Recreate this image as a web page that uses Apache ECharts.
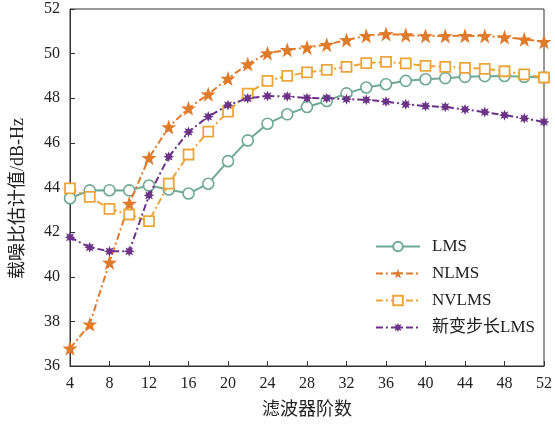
<!DOCTYPE html>
<html>
<head>
<meta charset="utf-8">
<script src="https://cdn.jsdelivr.net/npm/echarts@6/dist/echarts.min.js"></script>
<style>
  html, body { margin: 0; padding: 0; background: #fff; }
  #chart { width: 555px; height: 425px; }
</style>
</head>
<body>
<div id="chart"></div>
<script>
// Filter order (x) and estimated C/N0 for each algorithm
const filterOrders = [4, 6, 8, 10, 12, 14, 16, 18, 20, 22, 24, 26, 28, 30, 32, 34, 36, 38, 40, 42, 44, 46, 48, 50, 52];
const lmsValues = [43.52, 43.87, 43.88, 43.87, 44.09, 43.91, 43.73, 44.17, 45.18, 46.11, 46.86, 47.28, 47.61, 47.88, 48.22, 48.48, 48.63, 48.78, 48.85, 48.9, 48.96, 48.99, 49.0, 48.96, 48.93];
const nlmsValues = [36.79, 37.87, 40.64, 43.28, 45.33, 46.71, 47.55, 48.18, 48.88, 49.53, 50.02, 50.17, 50.28, 50.4, 50.61, 50.8, 50.88, 50.83, 50.79, 50.79, 50.8, 50.79, 50.74, 50.64, 50.53];
const nvlmsValues = [43.96, 43.58, 43.04, 42.79, 42.49, 44.17, 45.48, 46.5, 47.4, 48.21, 48.78, 49.0, 49.16, 49.27, 49.41, 49.57, 49.63, 49.56, 49.45, 49.41, 49.36, 49.32, 49.21, 49.07, 48.93];
const newVssValues = [41.77, 41.32, 41.14, 41.14, 43.65, 45.38, 46.49, 47.18, 47.69, 48.0, 48.1, 48.08, 48.01, 48.0, 47.96, 47.93, 47.85, 47.73, 47.65, 47.61, 47.5, 47.38, 47.24, 47.1, 46.94];
const seriesNames = ['LMS', 'NLMS', 'NVLMS', '新变步长LMS'];
const xTicks = [4, 8, 12, 16, 20, 24, 28, 32, 36, 40, 44, 48, 52];

const serifFont = '"Liberation Serif", "Noto Sans CJK SC", serif';
const cjkFont = '"Noto Sans CJK SC", "Liberation Serif", serif';

// Eight-armed burst used as the marker of the variable step-size series
const burstPath = 'path://M0,-10 L2,-4.8 L7.1,-7.1 L4.8,-2 L10,0 L4.8,2 L7.1,7.1 L2,4.8 L0,10 L-2,4.8 L-7.1,7.1 L-4.8,2 L-10,0 L-4.8,-2 L-7.1,-7.1 L-2,-4.8 Z';
const starPath = 'path://M0,-10 L2.35,-3.24 L9.51,-3.09 L3.8,1.24 L5.88,8.09 L0,4 L-5.88,8.09 L-3.8,1.24 L-9.51,-3.09 L-2.35,-3.24 Z';

const dashDot = [7, 3, 2, 3];

function pairs(vals) {
  return filterOrders.map((x, i) => [x, vals[i]]);
}

const chart = echarts.init(document.getElementById('chart'), null, { renderer: 'canvas' });

chart.setOption({
  animation: false,
  backgroundColor: '#ffffff',
  grid: { left: 70, right: 9, top: 9, bottom: 59, show: true, borderColor: '#333', borderWidth: 1, backgroundColor: 'transparent' },
  legend: {
    orient: 'vertical',
    left: 370,
    top: 233,
    itemWidth: 44,
    itemHeight: 12,
    itemGap: 10,
    textStyle: { fontFamily: serifFont, fontSize: 17, color: '#222', padding: [0, 0, 0, 7] },
    data: seriesNames.map(n => ({ name: n }))
  },
  xAxis: {
    type: 'value',
    min: 4,
    max: 52,
    interval: 4,
    name: '滤波器阶数',
    nameLocation: 'middle',
    nameGap: 33,
    nameTextStyle: { fontFamily: cjkFont, fontSize: 18, color: '#222' },
    axisLine: { show: true, lineStyle: { color: '#333', width: 1 } },
    axisTick: { show: true, inside: true, length: 5, lineStyle: { color: '#333' } },
    axisLabel: { fontFamily: serifFont, fontSize: 16, color: '#222', margin: 10,
      formatter: v => xTicks.includes(v) ? String(v) : '' },
    splitLine: { show: false }
  },
  yAxis: {
    type: 'value',
    min: 36,
    max: 52,
    interval: 2,
    name: '载噪比估计值/dB-Hz',
    nameLocation: 'middle',
    nameGap: 43,
    nameRotate: 90,
    nameTextStyle: { fontFamily: serifFont, fontSize: 18, color: '#222', padding: [0, 22, 0, 0] },
    axisLine: { show: true, lineStyle: { color: '#333', width: 1 } },
    axisTick: { show: true, inside: true, length: 5, lineStyle: { color: '#333' } },
    axisLabel: { fontFamily: serifFont, fontSize: 16, color: '#222', margin: 10 },
    splitLine: { show: false }
  },
  series: [
    {
      name: seriesNames[0],
      type: 'line',
      data: pairs(lmsValues),
      symbol: 'circle',
      symbolSize: 11,
      color: '#6fa895',
      lineStyle: { color: '#6fa895', width: 2, type: 'solid' },
      itemStyle: { color: '#ffffff', borderColor: '#6fa895', borderWidth: 1.6 },
      z: 2
    },
    {
      name: seriesNames[1],
      type: 'line',
      data: pairs(nlmsValues),
      symbol: starPath,
      symbolSize: 15,
      color: '#e07b2c',
      lineStyle: { color: '#e07b2c', width: 2, type: dashDot },
      itemStyle: { color: '#e07b2c', borderColor: '#e07b2c', borderWidth: 0 },
      z: 3
    },
    {
      name: seriesNames[2],
      type: 'line',
      data: pairs(nvlmsValues),
      symbol: 'rect',
      symbolSize: 10,
      color: '#eba53a',
      lineStyle: { color: '#eba53a', width: 2, type: dashDot },
      itemStyle: { color: '#ffffff', borderColor: '#eba53a', borderWidth: 1.8 },
      z: 4
    },
    {
      name: seriesNames[3],
      type: 'line',
      data: pairs(newVssValues),
      symbol: burstPath,
      symbolSize: 11,
      color: '#6c3288',
      lineStyle: { color: '#6c3288', width: 2, type: dashDot },
      itemStyle: { color: '#6c3288', borderColor: '#6c3288', borderWidth: 0 },
      z: 5
    }
  ]
});
</script>
</body>
</html>
